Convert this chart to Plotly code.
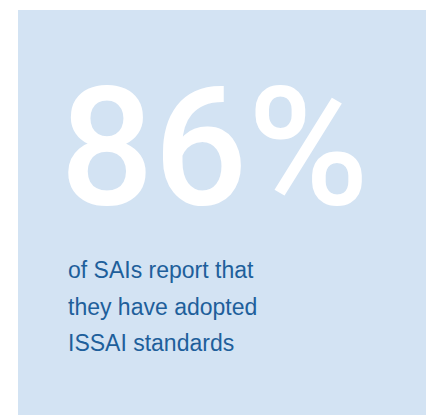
import plotly.graph_objects as go

# Data
headline_value = "86%"
caption_lines = ["of SAIs report that", "they have adopted", "ISSAI standards"]

W, H = 426, 415
BOX_COLOR = "#d3e3f3"
TEXT_BLUE = "#1e5f9b"

fig = go.Figure()

fig.add_shape(type="rect", xref="paper", yref="paper",
              x0=18 / W, x1=1.05, y0=-0.05, y1=1 - 10 / H,
              fillcolor=BOX_COLOR, line=dict(width=0), layer="below")

big_size = 165
fig.add_annotation(text=headline_value, xref="paper", yref="paper",
                   x=58 / W, y=1 - 147.2 / H, xanchor="left", yanchor="middle",
                   showarrow=False,
                   font=dict(family="Roboto", size=big_size, color="white", weight=500))

small_size = 23
first_center = 270
spacing = 36.5
for i, line in enumerate(caption_lines):
    fig.add_annotation(text=line, xref="paper", yref="paper",
                       x=65.5 / W, y=1 - (first_center + i * spacing) / H,
                       xanchor="left", yanchor="middle", showarrow=False,
                       font=dict(family="Liberation Sans, Arial", size=small_size, color=TEXT_BLUE))

fig.update_layout(width=W, height=H, margin=dict(l=0, r=0, t=0, b=0),
                  paper_bgcolor="white", plot_bgcolor="white",
                  xaxis=dict(visible=False), yaxis=dict(visible=False),
                  showlegend=False)

fig.write_html("out.html", config={"displayModeBar": False},
               post_script="document.body.style.margin='0';"
                           "document.documentElement.style.overflow='hidden';")
